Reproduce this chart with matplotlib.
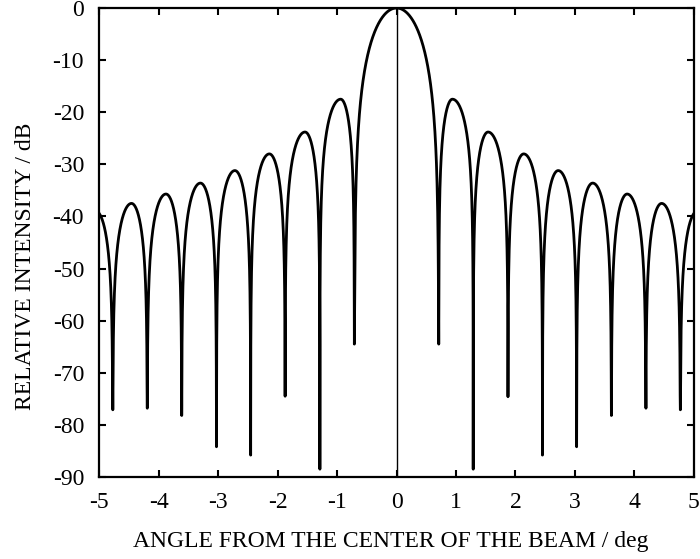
import matplotlib
matplotlib.use("Agg")
import matplotlib.pyplot as plt
import numpy as np

plt.rcParams["font.family"] = ["Liberation Serif", "DejaVu Serif"]

# values
# nulls (deg, dB) and lobe peaks (deg, dB); outermost entries lie just past the +/-5 deg frame
null_deg = [-5.36, -4.775, -4.195, -3.615, -3.03, -2.455, -1.875, -1.29, -0.71,
            0.71, 1.29, 1.875, 2.455, 3.03, 3.615, 4.195, 4.775, 5.36]
null_db = [-80.0, -77.1, -76.8, -78.2, -84.2, -85.8, -74.5, -88.5, -64.5,
           -64.5, -88.5, -74.6, -85.8, -84.2, -78.2, -76.8, -77.1, -80.0]
peak_deg = [-5.06, -4.46, -3.88, -3.30, -2.72, -2.14, -1.54, -0.94, 0.0,
            0.94, 1.54, 2.14, 2.72, 3.30, 3.88, 4.46, 5.06]
peak_db = [-39.0, -37.5, -35.7, -33.6, -31.2, -28.0, -23.8, -17.5, 0.0,
           -17.5, -23.8, -28.0, -31.2, -33.6, -35.7, -37.5, -39.0]

x_ticks = [-5, -4, -3, -2, -1, 0, 1, 2, 3, 4, 5]
y_ticks = [0, -10, -20, -30, -40, -50, -60, -70, -80, -90]


def lobe(a, b, c, peak, depth_a, depth_b, sharp=1.0, n=400):
    # arch between two nulls, peak placed at c
    x = np.linspace(a, b, n)
    t = np.where(x <= c, 0.5 * (x - a) / (c - a), 0.5 + 0.5 * (x - c) / (b - c))
    with np.errstate(divide="ignore"):
        y = peak + sharp * 20 * np.log10(np.abs(np.sin(np.pi * t)))
    y = np.where(t < 0.5, np.maximum(y, depth_a), np.maximum(y, depth_b))
    return x, y


xs, ys = [], []
for i in range(len(peak_deg)):
    sharp = 1.4 if peak_db[i] == 0.0 else 1.0
    x, y = lobe(null_deg[i], null_deg[i + 1], peak_deg[i], peak_db[i],
                null_db[i], null_db[i + 1], sharp)
    xs.append(x)
    ys.append(y)
xs = np.concatenate(xs)
ys = np.concatenate(ys)

fig = plt.figure(figsize=(7, 5.59), dpi=100)
ax = fig.add_axes([0.142, 0.1467, 0.849, 0.839])
ax.axvline(0, color="black", lw=1.0)
ax.plot(xs, ys, color="black", lw=2.0, solid_joinstyle="round")
ax.set_xlim(-5, 5)
ax.set_ylim(-90, 0)
ax.set_xticks(x_ticks)
ax.set_xticklabels([str(v) for v in x_ticks])
ax.set_yticks(y_ticks)
ax.set_yticklabels([str(v) for v in y_ticks])
ax.tick_params(direction="in", top=True, right=True, length=5, width=1.5,
               labelsize=17, pad=11)
for s in ax.spines.values():
    s.set_linewidth(1.6)
ax.set_xlabel("ANGLE FROM THE CENTER OF THE BEAM / deg", fontsize=17)
ax.set_ylabel("RELATIVE INTENSITY / dB", fontsize=17)
ax.xaxis.set_label_coords(0.49, -0.116)
ax.yaxis.set_label_coords(-0.106, 0.45)
fig.savefig("out.png", dpi=100)
